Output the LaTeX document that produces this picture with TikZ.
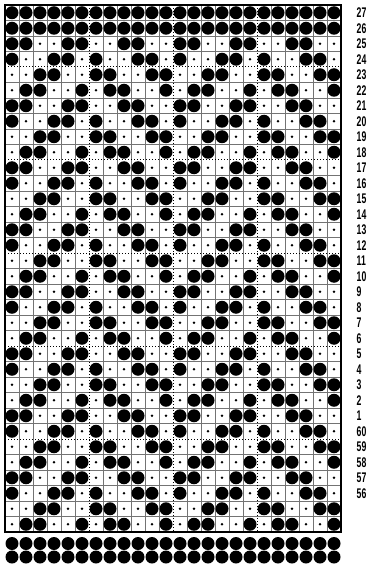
\documentclass[tikz,border=0pt]{standalone}
\usepackage{fontspec}
\usepackage{graphicx}
\newfontfamily\labfont{Liberation Sans}
\begin{document}
\begin{tikzpicture}[x=1pt,y=-1pt,
  bigdot/.style={fill=black},
  smalldot/.style={fill=black},
  gridline/.style={black!55, line width=0.5pt},
  sepline/.style={black, line width=1pt, dash pattern=on 1pt off 2pt},
  frame/.style={black, line width=1.1pt},
  rowlab/.style={anchor=west, inner sep=0pt, font=\labfont\bfseries\fontsize{14}{14}\selectfont}]
\useasboundingbox (0,0) rectangle (369,564);
\fill[white] (0,0) rectangle (369,564);
% grid
\foreach \i in {1,2,3,4,5,7,8,9,10,11,13,14,15,16,17,19,20,21,22,23}
  \draw[gridline] ({5+14*\i},5) -- ({5+14*\i},532);
\foreach \j in {1,2,3,5,6,7,8,9,11,12,13,14,15,17,18,19,20,21,23,24,25,26,27,29,30,31,32,33}
  \draw[gridline] (5,{5+15.5*\j}) -- (341,{5+15.5*\j});
% dotted separators
\foreach \i in {6,12,18}
  \draw[sepline] ({5+14*\i},5) -- ({5+14*\i},532);
\foreach \j in {4,10,16,22,28}
  \draw[sepline] (5,{5+15.5*\j}) -- (341,{5+15.5*\j});
\draw[frame] (5,5) rectangle (341,532);
% stitches inside the grid
\foreach \k in {0,...,33}{
  \foreach \c in {1,...,24}{
    \pgfmathtruncatemacro\m{mod(\k+2,4)}
    \pgfmathtruncatemacro\a{mod(\c-1,4)}
    \pgfmathtruncatemacro\b{mod(\c-1,6)}
    \pgfmathtruncatemacro\isbig{(\k<2)||((\m==0)&&(\a<2))||((\m==2)&&(\a>1))||((\m==1)&&((\b==0)||(\b==3)||(\b==4)))||((\m==3)&&((\b==1)||(\b==2)||(\b==5)))}
    \ifnum\isbig=1
      \fill[bigdot] ({5+14*(\c-0.5)},{5+15.5*(\k+0.5)}) circle[radius=6.5pt];
    \else
      \fill[smalldot] ({5+14*(\c-0.5)},{5+15.5*(\k+0.5)}) circle[radius=1.3pt];
    \fi
  }
}
% two rows below the grid
\foreach \yy in {543.5,557}
  \foreach \c in {1,...,24}
    \fill[bigdot] ({5+14*(\c-0.5)},\yy) circle[radius=6.5pt];
% row labels
\foreach \k/\t in {0/27,1/26,2/25,3/24,4/23,5/22,6/21,7/20,8/19,9/18,10/17,11/16,12/15,13/14,14/13,15/12,16/11,17/10,18/9,19/8,20/7,21/6,22/5,23/4,24/3,25/2,26/1,27/60,28/59,29/58,30/57,31/56}
  \node[rowlab] (lab\k) at (356.5,{5+15.5*(\k+0.5)}) {\scalebox{0.62}[1]{\t}};
\end{tikzpicture}
\end{document}
